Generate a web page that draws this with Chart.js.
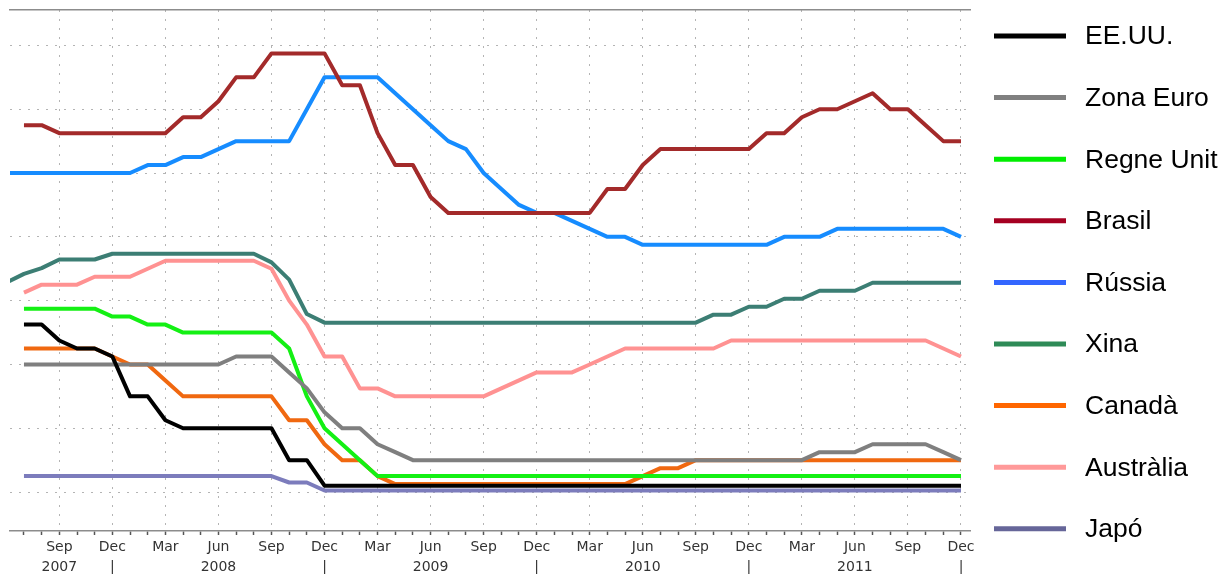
<!DOCTYPE html>
<html>
<head>
<meta charset="utf-8">
<script src="https://cdn.jsdelivr.net/npm/chart.js@4.4.1/dist/chart.umd.min.js"></script>
<style>
  html, body { margin: 0; padding: 0; background: #fff; }
  #wrap { width: 1231px; height: 574px; position: relative; }
</style>
</head>
<body>
<div id="wrap"><canvas id="rates"></canvas></div>
<script>
// eix x: índex de mes, 0 = jul 2007 (-1 = jun 2007, només Rússia i Xina)
const MONTH_NAMES = ['Jan', 'Feb', 'Mar', 'Apr', 'May', 'Jun', 'Jul', 'Aug', 'Sep', 'Oct', 'Nov', 'Dec'];
const QUARTER_MONTHS = ['Mar', 'Jun', 'Sep', 'Dec'];
const YEARS = [2007, 2008, 2009, 2010, 2011];
const YEAR_LABEL_MONTH = ['Sep', 'Jun', 'Jun', 'Jun', 'Jun'];
const MONTHS = [-1, 0, 1, 2, 3, 4, 5,
  6, 7, 8, 9, 10, 11, 12, 13, 14, 15, 16, 17,
  18, 19, 20, 21, 22, 23, 24, 25, 26, 27, 28, 29,
  30, 31, 32, 33, 34, 35, 36, 37, 38, 39, 40, 41,
  42, 43, 44, 45, 46, 47, 48, 49, 50, 51, 52, 53];
const Y_GRID = [0, 2, 4, 6, 8, 10, 12, 14];

// tipus d'interès (%), jun 2007 ... des 2011
const usa = [
  null, 5.25, 5.25, 4.75, 4.5, 4.5, 4.25,
  3.0, 3.0, 2.25, 2.0, 2.0, 2.0, 2.0, 2.0, 2.0, 1.0, 1.0, 0.2,
  0.2, 0.2, 0.2, 0.2, 0.2, 0.2, 0.2, 0.2, 0.2, 0.2, 0.2, 0.2,
  0.2, 0.2, 0.2, 0.2, 0.2, 0.2, 0.2, 0.2, 0.2, 0.2, 0.2, 0.2,
  0.2, 0.2, 0.2, 0.2, 0.2, 0.2, 0.2, 0.2, 0.2, 0.2, 0.2, 0.2
];
const euro = [
  null, 4.0, 4.0, 4.0, 4.0, 4.0, 4.0,
  4.0, 4.0, 4.0, 4.0, 4.0, 4.0, 4.25, 4.25, 4.25, 3.75, 3.25, 2.5,
  2.0, 2.0, 1.5, 1.25, 1.0, 1.0, 1.0, 1.0, 1.0, 1.0, 1.0, 1.0,
  1.0, 1.0, 1.0, 1.0, 1.0, 1.0, 1.0, 1.0, 1.0, 1.0, 1.0, 1.0,
  1.0, 1.0, 1.0, 1.25, 1.25, 1.25, 1.5, 1.5, 1.5, 1.5, 1.25, 1.0
];
const uk = [
  null, 5.75, 5.75, 5.75, 5.75, 5.75, 5.5,
  5.5, 5.25, 5.25, 5.0, 5.0, 5.0, 5.0, 5.0, 5.0, 4.5, 3.0, 2.0,
  1.5, 1.0, 0.5, 0.5, 0.5, 0.5, 0.5, 0.5, 0.5, 0.5, 0.5, 0.5,
  0.5, 0.5, 0.5, 0.5, 0.5, 0.5, 0.5, 0.5, 0.5, 0.5, 0.5, 0.5,
  0.5, 0.5, 0.5, 0.5, 0.5, 0.5, 0.5, 0.5, 0.5, 0.5, 0.5, 0.5
];
const brazil = [
  null, 11.5, 11.5, 11.25, 11.25, 11.25, 11.25,
  11.25, 11.25, 11.25, 11.75, 11.75, 12.25, 13.0, 13.0, 13.75, 13.75, 13.75, 13.75,
  12.75, 12.75, 11.25, 10.25, 10.25, 9.25, 8.75, 8.75, 8.75, 8.75, 8.75, 8.75,
  8.75, 8.75, 8.75, 9.5, 9.5, 10.25, 10.75, 10.75, 10.75, 10.75, 10.75, 10.75,
  11.25, 11.25, 11.75, 12.0, 12.0, 12.25, 12.5, 12.0, 12.0, 11.5, 11.0, 11.0
];
const russia = [
  10.0, 10.0, 10.0, 10.0, 10.0, 10.0, 10.0,
  10.0, 10.25, 10.25, 10.5, 10.5, 10.75, 11.0, 11.0, 11.0, 11.0, 12.0, 13.0,
  13.0, 13.0, 13.0, 12.5, 12.0, 11.5, 11.0, 10.75, 10.0, 9.5, 9.0, 8.75,
  8.75, 8.5, 8.25, 8.0, 8.0, 7.75, 7.75, 7.75, 7.75, 7.75, 7.75, 7.75,
  7.75, 8.0, 8.0, 8.0, 8.25, 8.25, 8.25, 8.25, 8.25, 8.25, 8.25, 8.0
];
const china = [
  6.57, 6.84, 7.02, 7.29, 7.29, 7.29, 7.47,
  7.47, 7.47, 7.47, 7.47, 7.47, 7.47, 7.47, 7.47, 7.2, 6.66, 5.58, 5.31,
  5.31, 5.31, 5.31, 5.31, 5.31, 5.31, 5.31, 5.31, 5.31, 5.31, 5.31, 5.31,
  5.31, 5.31, 5.31, 5.31, 5.31, 5.31, 5.31, 5.31, 5.31, 5.56, 5.56, 5.81,
  5.81, 6.06, 6.06, 6.31, 6.31, 6.31, 6.56, 6.56, 6.56, 6.56, 6.56, 6.56
];
const canada = [
  null, 4.5, 4.5, 4.5, 4.5, 4.5, 4.25,
  4.0, 4.0, 3.5, 3.0, 3.0, 3.0, 3.0, 3.0, 3.0, 2.25, 2.25, 1.5,
  1.0, 1.0, 0.5, 0.25, 0.25, 0.25, 0.25, 0.25, 0.25, 0.25, 0.25, 0.25,
  0.25, 0.25, 0.25, 0.25, 0.25, 0.5, 0.75, 0.75, 1.0, 1.0, 1.0, 1.0,
  1.0, 1.0, 1.0, 1.0, 1.0, 1.0, 1.0, 1.0, 1.0, 1.0, 1.0, 1.0
];
const australia = [
  null, 6.25, 6.5, 6.5, 6.5, 6.75, 6.75,
  6.75, 7.0, 7.25, 7.25, 7.25, 7.25, 7.25, 7.25, 7.0, 6.0, 5.25, 4.25,
  4.25, 3.25, 3.25, 3.0, 3.0, 3.0, 3.0, 3.0, 3.0, 3.25, 3.5, 3.75,
  3.75, 3.75, 4.0, 4.25, 4.5, 4.5, 4.5, 4.5, 4.5, 4.5, 4.75, 4.75,
  4.75, 4.75, 4.75, 4.75, 4.75, 4.75, 4.75, 4.75, 4.75, 4.75, 4.5, 4.25
];
const japan = [
  null, 0.5, 0.5, 0.5, 0.5, 0.5, 0.5,
  0.5, 0.5, 0.5, 0.5, 0.5, 0.5, 0.5, 0.5, 0.5, 0.3, 0.3, 0.05,
  0.05, 0.05, 0.05, 0.05, 0.05, 0.05, 0.05, 0.05, 0.05, 0.05, 0.05, 0.05,
  0.05, 0.05, 0.05, 0.05, 0.05, 0.05, 0.05, 0.05, 0.05, 0.05, 0.05, 0.05,
  0.05, 0.05, 0.05, 0.05, 0.05, 0.05, 0.05, 0.05, 0.05, 0.05, 0.05, 0.05
];

const SERIES = [
  { label: 'EE.UU.',     data: usa,       color: '#000000', legend: '#000000' },
  { label: 'Zona Euro',  data: euro,      color: '#7f7f7f', legend: '#808080' },
  { label: 'Regne Unit', data: uk,        color: '#14f014', legend: '#00ee00' },
  { label: 'Brasil',     data: brazil,    color: '#a32a2a', legend: '#a50021' },
  { label: 'Rússia',     data: russia,    color: '#168cff', legend: '#3366ff' },
  { label: 'Xina',       data: china,     color: '#3c7e74', legend: '#2e8b57' },
  { label: 'Canadà',     data: canada,    color: '#f06810', legend: '#ff6600' },
  { label: 'Austràlia',  data: australia, color: '#ff9292', legend: '#ff9999' },
  { label: 'Japó',       data: japan,     color: '#7c7cbc', legend: '#666699' }
];

function tickLabel(v) {
  const name = MONTH_NAMES[(6 + v) % 12];
  const year = 2007 + Math.floor((6 + v) / 12);
  if (!QUARTER_MONTHS.includes(name)) return '';
  let second = '';
  if (name === 'Dec') second = '|';
  const yi = YEARS.indexOf(year);
  if (yi >= 0 && YEAR_LABEL_MONTH[yi] === name) second = String(year);
  return [name, second];
}

// llegenda a la dreta: línia gruixuda + nom
const lineLegend = {
  id: 'lineLegend',
  afterDraw(chart) {
    const ctx = chart.ctx;
    const x0 = chart.chartArea.right + 24;
    chart.data.datasets.forEach((ds, i) => {
      const y = 36 + i * 61.6;
      ctx.save();
      ctx.strokeStyle = ds.legendColor;
      ctx.lineWidth = 5;
      ctx.beginPath();
      ctx.moveTo(x0, y);
      ctx.lineTo(x0 + 72, y);
      ctx.stroke();
      ctx.fillStyle = '#000';
      ctx.font = '26.5px "Liberation Sans", Arial, sans-serif';
      ctx.textBaseline = 'middle';
      ctx.fillText(ds.label, x0 + 91, y + 1);
      ctx.restore();
    });
  }
};

const datasets = SERIES.map(s => ({
  label: s.label,
  data: MONTHS.map((m, i) => ({ x: m, y: s.data[i] })),
  borderColor: s.color,
  backgroundColor: s.color,
  legendColor: s.legend,
  borderWidth: 4,
  borderJoinStyle: 'round',
  pointRadius: 0,
  tension: 0,
  fill: false,
  clip: 0
}));

const chart = new Chart(document.getElementById('rates'), {
  type: 'line',
  data: { datasets },
  options: {
    responsive: true,
    maintainAspectRatio: false,
    animation: false,
    devicePixelRatio: 1,
    layout: { padding: { left: 10, right: 261, top: 10, bottom: 0 } },
    plugins: {
      legend: { display: false },
      tooltip: { enabled: false }
    },
    scales: {
      x: {
        type: 'linear',
        position: 'bottom',
        min: -0.79,
        max: 53.51,
        afterBuildTicks: s => { s.ticks = MONTHS.filter(m => m >= 0).map(m => ({ value: m })); },
        afterFit: s => { s.height = 43; },
        grid: {
          color: c => (c.tick && QUARTER_MONTHS.includes(MONTH_NAMES[(6 + c.tick.value) % 12])) ? '#b4b4b4' : 'rgba(0,0,0,0)',
          lineWidth: 1,
          drawTicks: true,
          tickLength: 4,
          tickColor: '#555',
          tickWidth: 1.5
        },
        border: { display: true, color: '#8c8c8c', width: 1.5, dash: [2, 7] },
        ticks: {
          autoSkip: false,
          maxRotation: 0,
          padding: 2,
          color: '#333',
          font: { family: "'DejaVu Sans', sans-serif", size: 14, lineHeight: 1.46 },
          callback: v => tickLabel(v)
        }
      },
      xTop: {
        type: 'linear',
        position: 'top',
        min: -0.79,
        max: 53.51,
        afterFit: s => { s.height = 0; },
        grid: { display: false, drawTicks: false },
        border: { display: true, color: '#8c8c8c', width: 1.5 },
        ticks: { display: false }
      },
      y: {
        min: -1.22,
        max: 15.11,
        afterBuildTicks: s => { s.ticks = Y_GRID.map(v => ({ value: v })); },
        afterFit: s => { s.width = 0; },
        grid: { color: '#b4b4b4', lineWidth: 1, drawTicks: false },
        border: { display: false, dash: [2, 7] },
        ticks: { display: false }
      }
    }
  },
  plugins: [lineLegend]
});
</script>
</body>
</html>
